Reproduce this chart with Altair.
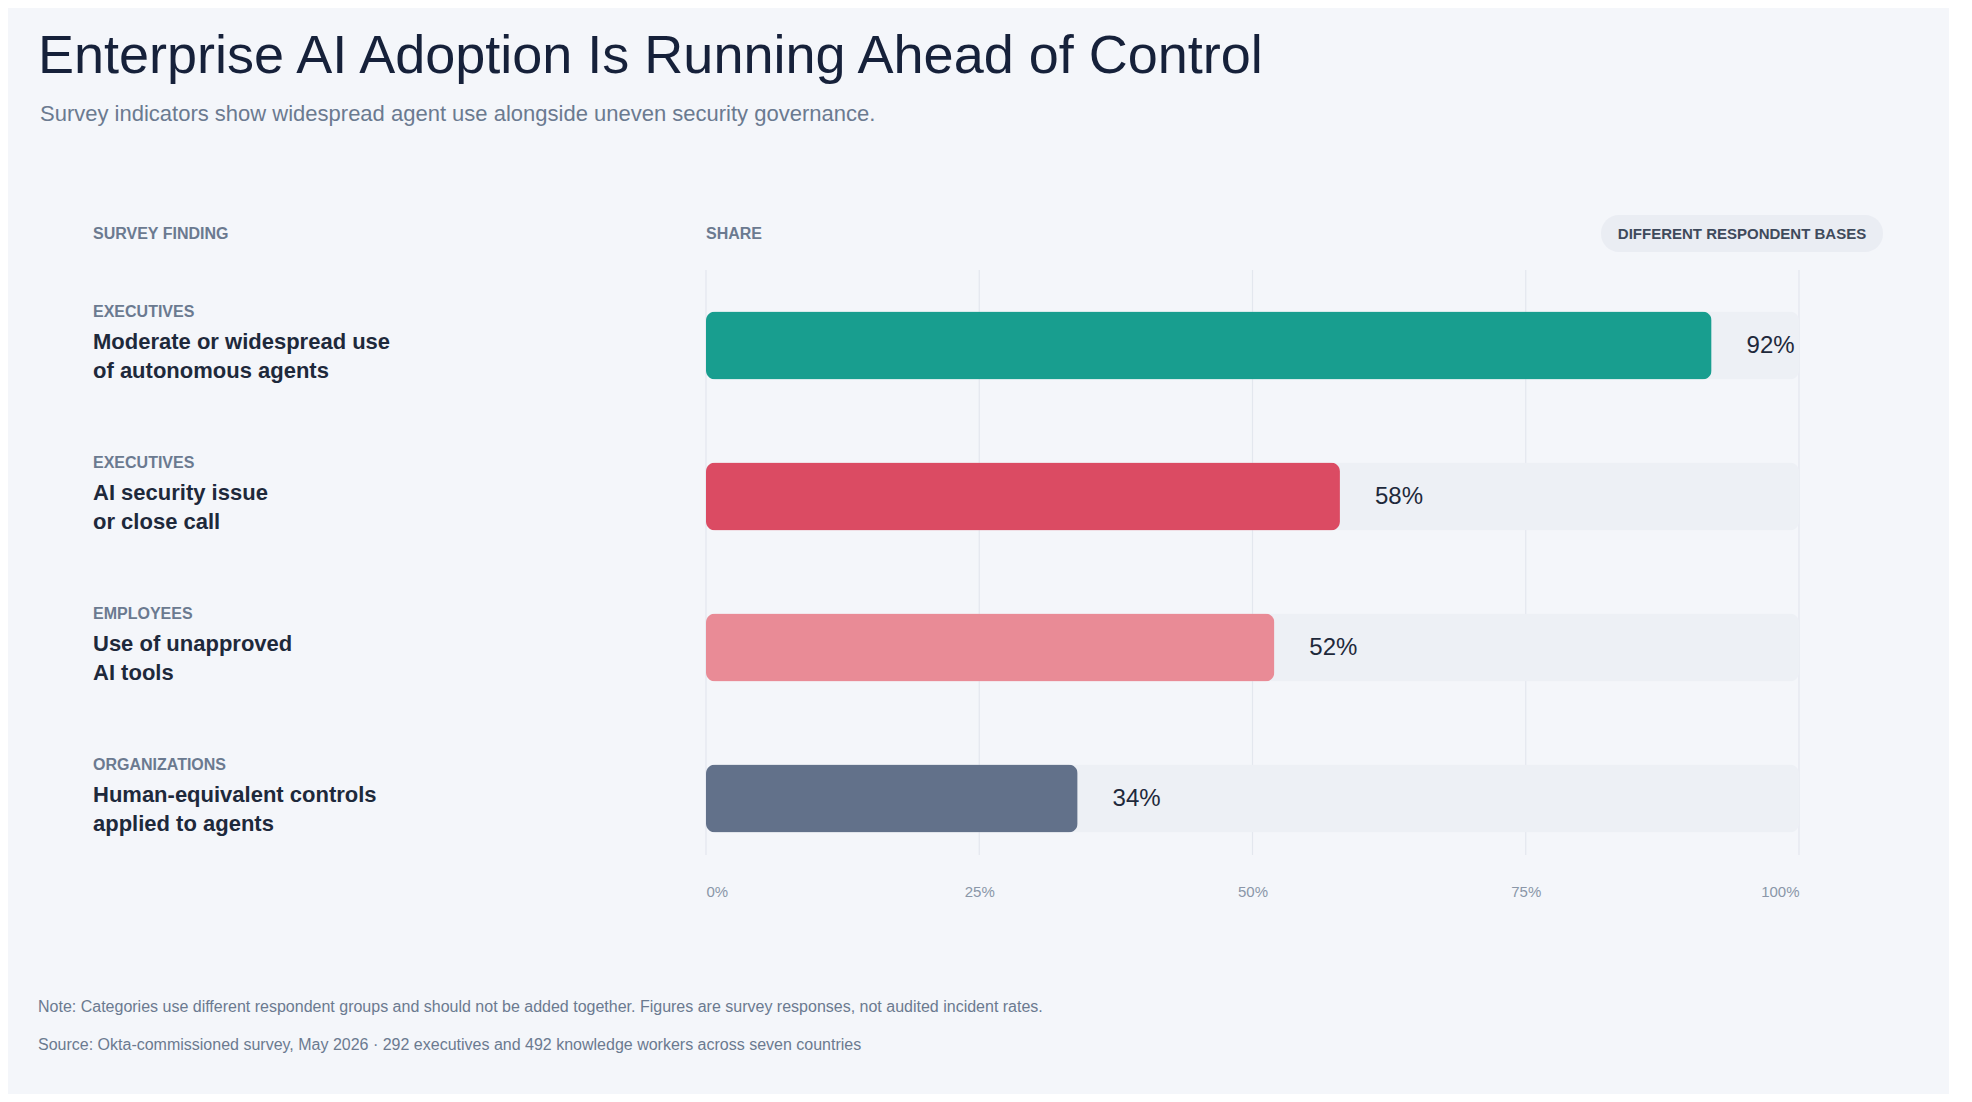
import altair as alt
import pandas as pd

groups = ["EXECUTIVES", "EXECUTIVES", "EMPLOYEES", "ORGANIZATIONS"]
findings = [
    "Moderate or widespread use\nof autonomous agents",
    "AI security issue\nor close call",
    "Use of unapproved\nAI tools",
    "Human-equivalent controls\napplied to agents",
]
shares = [92, 58, 52, 34]
colors = ["#189E8F", "#DB4B63", "#E98B96", "#62718A"]
ticks = [0, 25, 50, 75, 100]

df = pd.DataFrame({
    "row": [str(i) for i in range(4)],
    "group": groups,
    "finding": findings,
    "share": shares,
    "full": [100] * 4,
    "label": [f"{v}%" for v in shares],
    "color": colors,
})
grid = pd.DataFrame({"t": ticks})

W, H = 1093, 604
FONT = "Liberation Sans"
GREY = "#6B7A90"
DARK = "#1E293B"

x_scale = alt.Scale(domain=[0, 100], range=[0, W], nice=False)
y_enc = alt.Y("row:N", axis=None, scale=alt.Scale(domain=df["row"].tolist(), paddingInner=0, paddingOuter=0))
base = alt.Chart(df)

rules = alt.Chart(grid).mark_rule(color="#E3E7EE", strokeWidth=1.2).encode(
    x=alt.X("t:Q", scale=x_scale,
            axis=alt.Axis(values=ticks, format="d", labelExpr="datum.value + '%'", grid=False, domain=False,
                          ticks=False, labelFont=FONT, labelFontSize=15, labelColor="#8A96A8",
                          labelPadding=10, title=None)),
    y=alt.value(0), y2=alt.value(585),
)

track = base.mark_bar(color="#EDF0F5", size=68, cornerRadius=9).encode(
    x=alt.X("full:Q", scale=x_scale), x2=alt.value(0), y=y_enc)
bars = base.mark_bar(size=68, cornerRadius=9).encode(
    x=alt.X("share:Q", scale=x_scale), x2=alt.value(0), y=y_enc,
    color=alt.Color("color:N", scale=None))
values = base.mark_text(align="left", dx=35, font=FONT, fontSize=24, color=DARK).encode(
    x=alt.X("share:Q", scale=x_scale), y=y_enc, text="label:N")
group_txt = base.mark_text(align="left", dy=-34, font=FONT, fontSize=16, fontWeight="bold",
                           color=GREY).encode(
    x=alt.value(-613), y=y_enc, text="group:N")
find_txt = base.mark_text(align="left", baseline="top", dy=-14, font=FONT, fontSize=22,
                          fontWeight="bold", color=DARK, lineBreak="\n", lineHeight=29).encode(
    x=alt.value(-613), y=y_enc, text="finding:N")


def label(txt, x, y, size, color, weight="normal", align="left"):
    return alt.Chart(pd.DataFrame({"t": [txt]})).mark_text(
        align=align, baseline="alphabetic", font=FONT, fontSize=size, color=color,
        fontWeight=weight).encode(
        x=alt.value(x), y=alt.value(y), text="t:N")


badge = alt.Chart(pd.DataFrame({"a": [0]})).mark_rect(color="#EAEDF3", cornerRadius=18).encode(
    x=alt.value(895), x2=alt.value(1177), y=alt.value(-55), y2=alt.value(-18))

chart = alt.layer(
    rules, track, bars, values, group_txt, find_txt, badge,
    label("Enterprise AI Adoption Is Running Ahead of Control", -668, -197, 54, "#16213A"),
    label("Survey indicators show widespread agent use alongside uneven security governance.", -666, -149, 22, GREY),
    label("SURVEY FINDING", -613, -31, 16, GREY, "bold"),
    label("SHARE", 0, -31, 16, GREY, "bold"),
    label("DIFFERENT RESPONDENT BASES", 1036, -31, 15, "#3F4A5C", "bold", align="center"),
    label("Note: Categories use different respondent groups and should not be added together. Figures are survey responses, not audited incident rates.", -668, 742, 16, GREY),
    label("Source: Okta-commissioned survey, May 2026 · 292 executives and 492 knowledge workers across seven countries", -668, 780, 16, GREY),
).properties(
    width=W, height=H, background="#F4F6FA",
    autosize=alt.AutoSizeParams(type="none"),
    padding={"left": 698, "top": 262, "right": 150, "bottom": 220},
).configure_view(stroke=None)

chart.save("out.html", embed_options={"renderer": "svg", "actions": False})
